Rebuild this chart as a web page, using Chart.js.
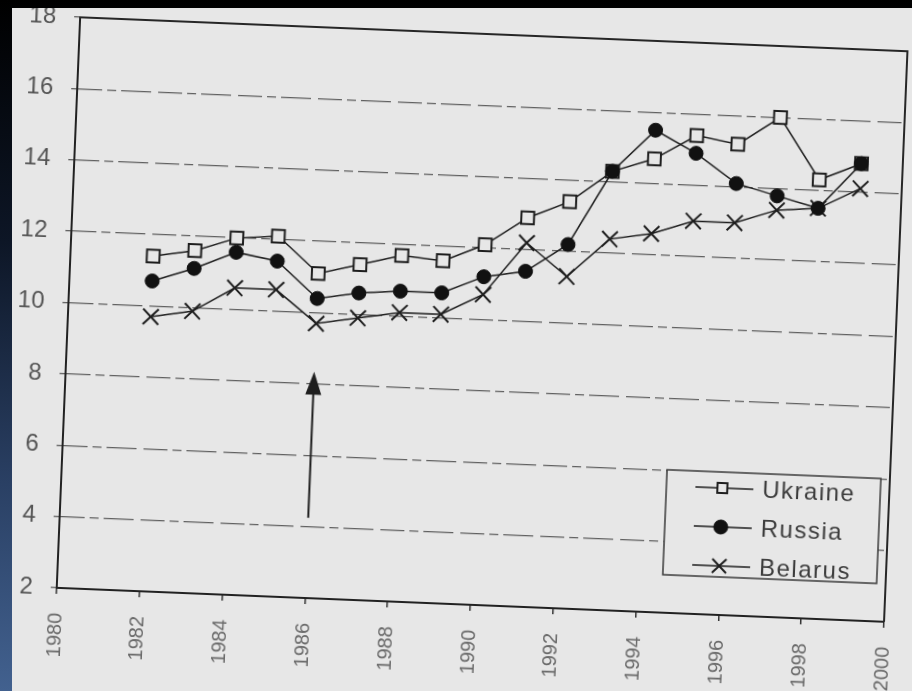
<!DOCTYPE html>
<html>
<head>
<meta charset="utf-8">
<script src="https://cdn.jsdelivr.net/npm/chart.js@4.4.1/dist/chart.umd.min.js"></script>
<style>
  html, body { margin: 0; padding: 0; }
  body {
    width: 912px; height: 691px; overflow: hidden; position: relative;
    background: linear-gradient(180deg, #000000 0%, #0d1626 35%, #2a4064 70%, #42618f 100%);
  }
  #paper {
    position: absolute; left: 12px; top: 8px; width: 900px; height: 683px;
    background: #e7e7e7; overflow: hidden;
  }
  #chart {
    position: absolute; left: -12px; top: -8px;
    transform: rotate(2.35deg);
  }
</style>
</head>
<body>
<div id="paper"><canvas id="chart" width="912" height="691"></canvas></div>
<script>
// Death rates, scanned chart (slightly skewed on the page)

const YEARS   = [1982, 1983, 1984, 1985, 1986, 1987, 1988, 1989, 1990,
                 1991, 1992, 1993, 1994, 1995, 1996, 1997, 1998, 1999];
const UKRAINE = [11.4, 11.6, 12.0, 12.1, 11.1, 11.4, 11.7, 11.6, 12.1,
                 12.9, 13.4, 14.3, 14.7, 15.4, 15.2, 16.0, 14.3, 14.8];
const RUSSIA  = [10.7, 11.1, 11.6, 11.4, 10.4, 10.6, 10.7, 10.7, 11.2,
                 11.4, 12.2, 14.3, 15.5, 14.9, 14.1, 13.8, 13.5, 14.8];
const BELARUS = [9.7, 9.9, 10.6, 10.6, 9.7, 9.9, 10.1, 10.1, 10.7,
                 12.2, 11.3, 12.4, 12.6, 13.0, 13.0, 13.4, 13.5, 14.1];

const X_TICKS = [1980, 1982, 1984, 1986, 1988, 1990, 1992, 1994, 1996, 1998, 2000];
const Y_TICKS = [2, 4, 6, 8, 10, 12, 14, 16, 18];

// arrow marking 1986
const ARROW_YEAR = 1986;
const ARROW_FROM = 4.25;
const ARROW_TO   = 8.35;

const PAPER = '#e7e7e7';
const INK   = '#1e1e1e';
const FONT  = '"Liberation Sans", Arial, sans-serif';

const toPoints = vals => YEARS.map((y, i) => ({ x: y, y: vals[i] }));

const frame = {
  id: 'frame',
  afterDatasetsDraw(chart) {
    const { ctx, chartArea: a } = chart;
    ctx.save();
    ctx.strokeStyle = '#262626';
    ctx.lineWidth = 2;
    ctx.beginPath();
    ctx.moveTo(a.left, a.top);
    ctx.lineTo(a.right, a.top);
    ctx.lineTo(a.right, a.bottom);
    ctx.stroke();
    ctx.restore();
  },
};

const legendBox = {
  id: 'legendBox',
  afterDraw(chart) {
    const { ctx, chartArea: a } = chart;
    const w = 214, h = 105;
    const left = a.right - 9 - w;
    const top = a.bottom - 38 - h;
    ctx.save();
    ctx.fillStyle = PAPER;
    ctx.strokeStyle = '#3a3a3a';
    ctx.lineWidth = 1.5;
    ctx.fillRect(left, top, w, h);
    ctx.strokeRect(left, top, w, h);

    chart.data.datasets.forEach((ds, i) => {
      const y = top + 16 + i * 39;
      ctx.strokeStyle = ds.borderColor;
      ctx.lineWidth = 1.5;
      ctx.beginPath();
      ctx.moveTo(left + 29, y);
      ctx.lineTo(left + 87, y);
      ctx.stroke();

      ctx.fillStyle = ds.pointBackgroundColor;
      ctx.strokeStyle = ds.pointBorderColor;
      ctx.lineWidth = ds.pointBorderWidth;
      Chart.helpers.drawPoint(ctx, {
        pointStyle: ds.pointStyle,
        radius: ds.legendRadius,
        borderWidth: ds.pointBorderWidth,
        rotation: 0,
      }, left + 56, y);

      ctx.fillStyle = '#3c3c3c';
      ctx.font = `24px ${FONT}`;
      ctx.letterSpacing = '1.5px';
      ctx.textAlign = 'left';
      ctx.textBaseline = 'middle';
      ctx.fillText(ds.label, left + 96, y + 1);
    });
    ctx.restore();
  },
};

const arrow = {
  id: 'arrow',
  afterDraw(chart) {
    const { ctx, scales: { x, y } } = chart;
    const px = x.getPixelForValue(ARROW_YEAR);
    const y0 = y.getPixelForValue(ARROW_FROM);
    const y1 = y.getPixelForValue(ARROW_TO);
    ctx.save();
    ctx.strokeStyle = INK;
    ctx.fillStyle = INK;
    ctx.lineWidth = 2;
    ctx.beginPath();
    ctx.moveTo(px, y0);
    ctx.lineTo(px, y1 + 18);
    ctx.stroke();
    ctx.beginPath();
    ctx.moveTo(px, y1);
    ctx.lineTo(px - 8, y1 + 23);
    ctx.lineTo(px + 8, y1 + 23);
    ctx.closePath();
    ctx.fill();
    ctx.restore();
  },
};

new Chart(document.getElementById('chart'), {
  type: 'line',
  data: {
    datasets: [
      {
        label: 'Ukraine',
        data: toPoints(UKRAINE),
        borderColor: INK,
        borderWidth: 1.5,
        pointStyle: 'rect',
        pointRadius: 9,
        legendRadius: 7,
        pointBorderWidth: 2,
        pointBackgroundColor: PAPER,
        pointBorderColor: INK,
        order: 1,
      },
      {
        label: 'Russia',
        data: toPoints(RUSSIA),
        borderColor: INK,
        borderWidth: 1.5,
        pointStyle: 'circle',
        pointRadius: 7,
        legendRadius: 7,
        pointBorderWidth: 1,
        pointBackgroundColor: '#111111',
        pointBorderColor: '#111111',
        order: 0,
      },
      {
        label: 'Belarus',
        data: toPoints(BELARUS),
        borderColor: INK,
        borderWidth: 1.5,
        pointStyle: 'crossRot',
        pointRadius: 11,
        legendRadius: 10,
        pointBorderWidth: 2,
        pointBackgroundColor: INK,
        pointBorderColor: INK,
        order: 2,
      },
    ],
  },
  options: {
    responsive: false,
    animation: false,
    layout: { padding: { top: 33, right: 17, left: 0, bottom: 0 } },
    plugins: {
      legend: { display: false },
      tooltip: { enabled: false },
    },
    scales: {
      x: {
        type: 'linear',
        min: 1980,
        max: 2000,
        afterBuildTicks: s => { s.ticks = X_TICKS.map(v => ({ value: v })); },
        afterFit: s => {
          s.height = 87;
          s.paddingLeft = 0;
          s.paddingRight = 0;
        },
        grid: { drawOnChartArea: false, tickLength: 6, color: '#333', lineWidth: 1.5 },
        border: { color: '#222', width: 2 },
        ticks: {
          minRotation: 90,
          maxRotation: 90,
          padding: 19,
          color: '#6a6a6a',
          font: { family: FONT, size: 20 },
          callback: v => String(v),
        },
      },
      y: {
        min: 2,
        max: 18,
        afterBuildTicks: s => { s.ticks = Y_TICKS.map(v => ({ value: v })); },
        afterFit: s => {
          s.width = 67;
          s.paddingTop = 0;
          s.paddingBottom = 0;
        },
        grid: { color: '#606060', lineWidth: 1.3, tickLength: 6 },
        border: { color: '#222', width: 2, dash: [24, 5, 9, 5, 30, 7] },
        ticks: {
          padding: 18,
          color: '#555555',
          font: { family: FONT, size: 24 },
        },
      },
    },
  },
  plugins: [frame, legendBox, arrow],
});
</script>
</body>
</html>
